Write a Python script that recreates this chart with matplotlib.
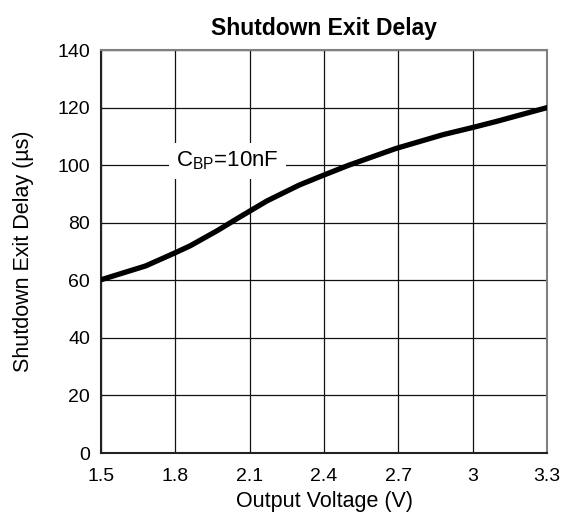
import numpy as np
import matplotlib
matplotlib.use("Agg")
import matplotlib.pyplot as plt

plt.rcParams["font.family"] = ["Liberation Sans", "DejaVu Sans"]

# Curve (C_BP = 10nF)
voltage = [1.5, 1.68, 1.80, 1.86, 1.97, 2.06, 2.17, 2.30, 2.40, 2.50,
           2.69, 2.88, 3.00, 3.10, 3.3]
delay_us = [60.2, 65.0, 69.6, 72.0, 77.3, 82.0, 87.6, 93.1, 96.6, 100.0,
            105.8, 110.6, 113.1, 115.3, 120.0]

x_ticks = [1.5, 1.8, 2.1, 2.4, 2.7, 3.0, 3.3]
x_tick_labels = ["1.5", "1.8", "2.1", "2.4", "2.7", "3", "3.3"]
y_ticks = [0, 20, 40, 60, 80, 100, 120, 140]

fig = plt.figure(figsize=(5.74, 5.16), dpi=100)
ax = fig.add_axes([0.176, 0.122, 0.777, 0.781])

ax.plot(voltage, delay_us, color="black", lw=3.8, solid_capstyle="round",
        solid_joinstyle="round", zorder=3)

ax.set_xlim(1.5, 3.3)
ax.set_ylim(0, 140)
ax.set_xticks(x_ticks)
ax.set_xticklabels(x_tick_labels)
ax.set_yticks(y_ticks)
ax.grid(True, color="#111111", lw=0.9)
ax.tick_params(labelsize=14, length=0)
ax.tick_params(axis="x", pad=11)
ax.tick_params(axis="y", pad=8)
for s in ax.spines.values():
    s.set_color("#808080")
    s.set_linewidth(1.5)
ax.spines["left"].set_color("#222222")
ax.spines["bottom"].set_color("#222222")

ax.text(2.01, 101.5, r"C$_{\mathregular{BP}}$=10nF", fontsize=16, ha="center", va="center",
        bbox=dict(facecolor="white", edgecolor="none", pad=5), zorder=4)

ax.set_xlabel("Output Voltage (V)", fontsize=15.5, labelpad=4)
ax.set_ylabel("Shutdown Exit Delay (µs)", fontsize=15.5, labelpad=17)
ax.set_title("Shutdown Exit Delay", fontsize=16.5, fontweight="bold", pad=11)

fig.savefig("out.png", dpi=100)
